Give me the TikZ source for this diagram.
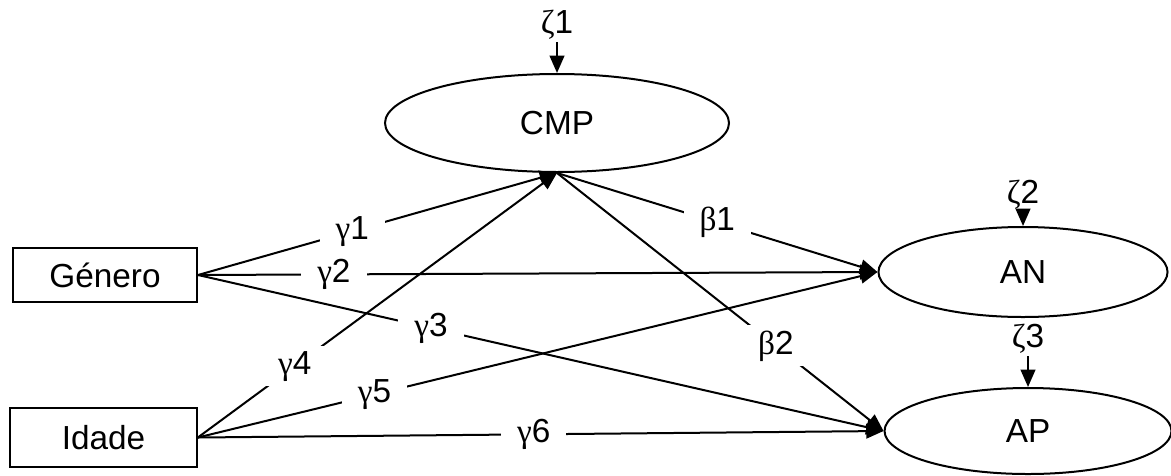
\documentclass[tikz,border=0pt]{standalone}
\usepackage{fontspec}
\setmainfont{Liberation Sans}
\newfontfamily\grk{Liberation Serif}
\usetikzlibrary{arrows.meta,shapes.geometric,positioning}

\begin{document}
\begin{tikzpicture}[
  x=0.375pt, y=-0.375pt,
  font=\fontsize{12.5}{14}\selectfont,
  box/.style={draw, line width=0.75pt, minimum width=69pt, minimum height=20pt, inner sep=0pt},
  lat/.style={draw, ellipse, line width=0.75pt, inner sep=0pt},
  arr/.style={-{Triangle[length=6.5pt,width=5.5pt]}, line width=0.75pt},
  lab/.style={fill=white, inner xsep=6pt, inner ysep=2pt},
  err/.style={inner sep=1pt}
]
\useasboundingbox (0,0) rectangle (1171,475);
% observed variables
\node[box] (gen) at (105,275) {Género};
\node[box, minimum width=70pt, minimum height=22pt] (ida) at (103.5,437.5) {Idade};
% latent variables
\node[lat, minimum width=129pt, minimum height=36.75pt] (cmp) at (557,123) {CMP};
\node[lat, minimum width=108.4pt, minimum height=33.75pt] (an) at (1023,272) {AN};
\node[lat, minimum width=107.6pt, minimum height=32.25pt] (ap) at (1028,431) {AP};
% disturbances
\node[err, above=11.5pt of cmp] (z1) {{\grk ζ}1};
\node[err, above=5pt of an] (z2) {{\grk ζ}2};
\node[err, above=11.5pt of ap] (z3) {{\grk ζ}3};
\draw[arr] (z1) -- (cmp);
\draw[arr] (z2) -- (an);
\draw[arr] (z3) -- (ap);
% paths
\draw[arr] (gen.east) -- node[lab, pos=0.43] {{\grk γ}1} (cmp.south);
\draw[arr] (gen.east) -- node[lab, pos=0.2] {{\grk γ}2} (an.west);
\draw[arr] (gen.east) -- node[lab, pos=0.34] {{\grk γ}3} (ap.west);
\draw[arr] (ida.east) -- node[lab, pos=0.27] {{\grk γ}4} (cmp.south);
\draw[arr] (ida.east) -- node[lab, pos=0.26] {{\grk γ}5} (an.west);
\draw[arr] (ida.east) -- node[lab, pos=0.49] {{\grk γ}6} (ap.west);
\draw[arr] (cmp.south) -- node[lab, pos=0.5] {{\grk β}1} (an.west);
\draw[arr] (cmp.south) -- node[lab, pos=0.67] {{\grk β}2} (ap.west);
\end{tikzpicture}
\end{document}
